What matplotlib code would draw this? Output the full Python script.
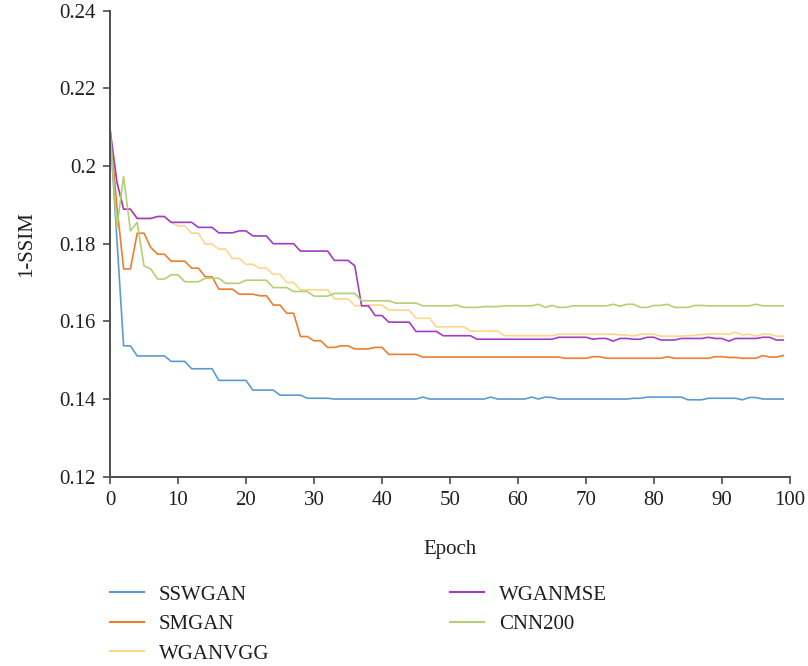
import numpy as np
import matplotlib
matplotlib.use("Agg")
import matplotlib.pyplot as plt

epochs = list(range(100))

def expand(runs):
    out = []
    for n, v in runs:
        out += [v] * n
    return out

sswgan = expand([(1, 0.2095), (1, 0.1816), (2, 0.1537), (5, 0.1511), (3, 0.1497), (4, 0.1478),
                 (5, 0.1448), (4, 0.1423), (4, 0.1410), (4, 0.1402), (13, 0.1400), (1, 0.1405),
                 (9, 0.1400), (1, 0.1405), (5, 0.1400), (1, 0.1405), (1, 0.1400), (1, 0.1405),
                 (1, 0.1404), (11, 0.1400), (2, 0.1402), (6, 0.1405), (3, 0.1398), (5, 0.1402),
                 (1, 0.1398), (2, 0.1404), (4, 0.1400)])

smgan = expand([(1, 0.2095), (1, 0.1900), (2, 0.1735), (2, 0.1827), (1, 0.1790), (2, 0.1773),
                (3, 0.1755), (2, 0.1737), (2, 0.1715), (3, 0.1683), (3, 0.1670), (2, 0.1666),
                (2, 0.1642), (2, 0.1621), (2, 0.1561), (2, 0.1550), (2, 0.1533), (2, 0.1537),
                (3, 0.1529), (2, 0.1533), (5, 0.1515), (21, 0.1508), (4, 0.1505), (2, 0.1509),
                (9, 0.1505), (1, 0.1509), (6, 0.1505), (2, 0.1509), (2, 0.1507), (3, 0.1505),
                (1, 0.1512), (2, 0.1508), (1, 0.1512)])

wganvgg = expand([(1, 0.2095), (1, 0.1960), (2, 0.1889), (3, 0.1865), (2, 0.1870), (1, 0.1855),
                  (2, 0.1846), (2, 0.1827), (2, 0.1799), (2, 0.1786), (2, 0.1762), (2, 0.1747),
                  (2, 0.1737), (2, 0.1721), (2, 0.1700), (5, 0.1681), (3, 0.1658), (2, 0.1640),
                  (3, 0.1642), (4, 0.1629), (3, 0.1608), (5, 0.1586), (5, 0.1575), (8, 0.1563),
                  (9, 0.1567), (2, 0.1565), (1, 0.1562), (3, 0.1567), (4, 0.1562), (1, 0.1563),
                  (1, 0.1564), (1, 0.1566), (1, 0.1567), (2, 0.1568), (1, 0.1567), (1, 0.1572),
                  (1, 0.1565), (1, 0.1567), (1, 0.1562), (2, 0.1567), (2, 0.1562)])

wganmse = expand([(1, 0.2095), (1, 0.1960), (2, 0.1889), (3, 0.1865), (2, 0.1870), (4, 0.1855),
                  (3, 0.1842), (3, 0.1828), (2, 0.1833), (3, 0.1820), (4, 0.1800), (5, 0.1781),
                  (3, 0.1757), (1, 0.1743), (2, 0.1640), (2, 0.1615), (4, 0.1598), (4, 0.1574),
                  (5, 0.1563), (12, 0.1554), (5, 0.1559), (1, 0.1554), (2, 0.1556), (1, 0.1549),
                  (2, 0.1556), (2, 0.1554), (2, 0.1559), (3, 0.1552), (4, 0.1556), (1, 0.1559),
                  (2, 0.1556), (1, 0.1549), (4, 0.1556), (2, 0.1559), (2, 0.1552)])

cnn200 = expand([(1, 0.2095), (1, 0.1840), (1, 0.1973), (1, 0.1833), (1, 0.1855), (1, 0.1743),
                 (1, 0.1735), (2, 0.1709), (2, 0.1720), (3, 0.1702), (3, 0.1711), (3, 0.1698),
                 (4, 0.1706), (3, 0.1687), (3, 0.1677), (3, 0.1665), (4, 0.1672), (5, 0.1653),
                 (4, 0.1647), (5, 0.1640), (1, 0.1642), (3, 0.1636), (3, 0.1638), (5, 0.1640),
                 (1, 0.1644), (1, 0.1636), (1, 0.1641), (2, 0.1636), (6, 0.1640), (1, 0.1644),
                 (1, 0.1639), (2, 0.1644), (2, 0.1636), (2, 0.1641), (1, 0.1644), (3, 0.1636),
                 (2, 0.1641), (7, 0.1640), (1, 0.1644), (4, 0.1640)])

series_names = ["SSWGAN", "SMGAN", "WGANVGG", "WGANMSE", "CNN200"]
series_values = [sswgan, smgan, wganvgg, wganmse, cnn200]
colors = ["#5B9BD5", "#ED7D31", "#FFD58C", "#A13DC4", "#B3D074"]

x_ticks = list(range(0, 101, 10))
y_ticks = [0.12, 0.14, 0.16, 0.18, 0.20, 0.22, 0.24]
y_tick_labels = ["0.12", "0.14", "0.16", "0.18", "0.2", "0.22", "0.24"]

plt.rcParams['font.family'] = ['Liberation Serif', 'DejaVu Serif']
FS = 15
txt = "#231F20"

fig = plt.figure(figsize=(8.08, 6.66), dpi=100)
ax = fig.add_axes([110/808, 1 - 476.7/666, 680/808, 466/666])

lines = []
for name, vals, c in zip(series_names, series_values, colors):
    ln, = ax.plot(epochs, vals, color=c, lw=1.2, label=name, solid_joinstyle='round')
    lines.append(ln)

ax.set_xlim(0, 100)
ax.set_ylim(0.12, 0.24)
ax.set_xticks(x_ticks)
ax.set_xticklabels([str(t) for t in x_ticks])
ax.set_yticks(y_ticks)
ax.set_yticklabels(y_tick_labels)
for s in ["top", "right"]:
    ax.spines[s].set_visible(False)
for s in ["left", "bottom"]:
    ax.spines[s].set_color("#4D4D4D")
    ax.spines[s].set_linewidth(1.4)
ax.tick_params(axis='both', direction='out', length=5, width=1.2, color="#4D4D4D",
               labelsize=FS, labelcolor=txt, pad=5)
ax.set_xlabel("Epoch", fontsize=FS, color=txt)
ax.set_ylabel("1-SSIM", fontsize=FS, color=txt)
ax.xaxis.set_label_coords(0.5, -0.136)
ax.yaxis.set_label_coords(-0.108, 0.5)

leg_kw = dict(frameon=False, fontsize=FS, handlelength=1.65, handletextpad=0.7,
              labelspacing=0.48, borderpad=0, borderaxespad=0, loc='upper left',
              bbox_transform=fig.transFigure, labelcolor=txt)
leg1 = fig.legend(lines[:3], series_names[:3], bbox_to_anchor=(110/808, 1 - 585/666), **leg_kw)
leg2 = fig.legend(lines[3:], series_names[3:], bbox_to_anchor=(450/808, 1 - 585/666), **leg_kw)
for lg in (leg1, leg2):
    for h in lg.legend_handles:
        h.set_linewidth(1.5)

fig.savefig("out.png", dpi=100)
